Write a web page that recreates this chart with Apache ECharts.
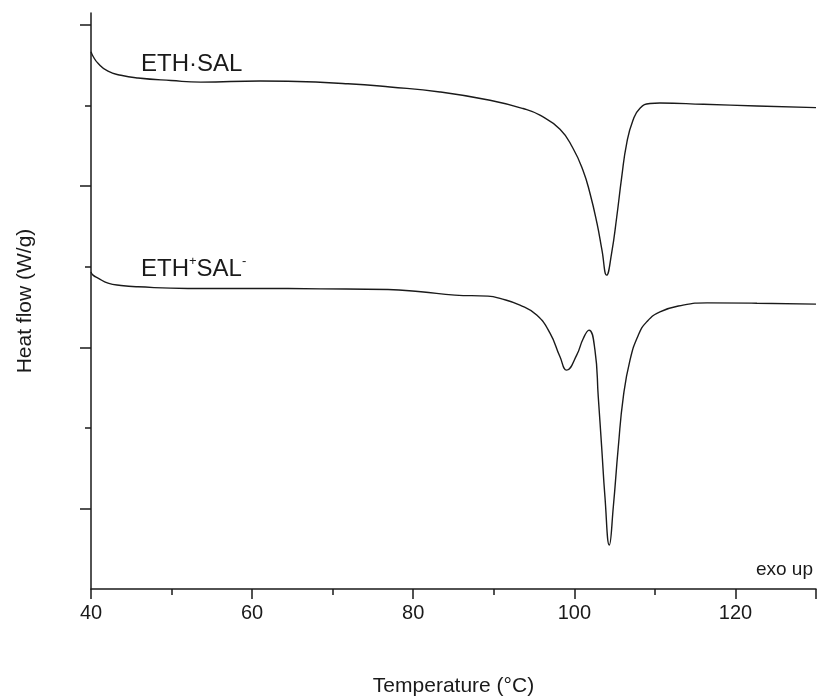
<!DOCTYPE html>
<html>
<head>
<meta charset="utf-8">
<script src="https://cdn.jsdelivr.net/npm/echarts@6/dist/echarts.min.js"></script>
<style>html,body{margin:0;padding:0;background:#fff}#c{width:817px;height:700px}</style>
</head>
<body>
<div id="c"></div>
<script>
// ETH·SAL (upper trace)
const ethSalT = [40.0, 40.25, 40.87, 42.11, 43.72, 45.83, 49.93, 53.65, 60.98, 64.45, 71.9, 77.12, 83.32, 89.53, 93.63, 95.73, 98.22, 99.83, 101.07, 101.94, 102.81, 103.43, 104.01, 104.63, 105.26, 105.88, 106.5, 107.28, 108.15, 109.39, 110.63, 116.05, 122.67, 130.0];
const ethSalHF = [6.669, 6.613, 6.526, 6.427, 6.377, 6.344, 6.312, 6.292, 6.306, 6.302, 6.272, 6.232, 6.170, 6.067, 5.964, 5.881, 5.707, 5.471, 5.199, 4.913, 4.541, 4.206, 3.896, 4.169, 4.615, 5.112, 5.533, 5.819, 5.968, 6.026, 6.033, 6.017, 5.996, 5.976];
// ETH+SAL- (lower trace)
const ethpSalmT = [40.0, 40.25, 40.87, 42.11, 43.72, 45.83, 52.04, 60.36, 68.55, 76.87, 80.96, 85.18, 89.28, 90.77, 93.25, 95.33, 96.98, 98.22, 99.05, 100.29, 101.11, 101.82, 102.56, 102.97, 103.39, 103.80, 104.34, 104.84, 105.46, 106.08, 106.91, 107.94, 108.98, 110.63, 113.49, 116.47, 122.67, 130.0];
const ethpSalmHF = [3.937, 3.896, 3.859, 3.797, 3.768, 3.751, 3.731, 3.731, 3.726, 3.718, 3.689, 3.648, 3.635, 3.607, 3.524, 3.400, 3.176, 2.882, 2.717, 2.903, 3.110, 3.213, 2.965, 2.386, 1.766, 1.145, 0.546, 1.021, 1.766, 2.386, 2.841, 3.151, 3.316, 3.440, 3.524, 3.552, 3.548, 3.536];
// ticks
const xLabelTicks = [40, 60, 80, 100, 120];
const xMajorTicks = [40, 60, 80, 100, 120, 130];
const xMinorTicks = [50, 70, 90, 110];
const yMajorTicks = [1, 3, 5, 7];
const yMinorTicks = [2, 4, 6];

const zip = (a, b) => a.map((v, i) => [v, b[i]]);
const FONT = 'Liberation Sans, Arial, sans-serif';
const INK = '#1a1a1a';

const chart = echarts.init(document.getElementById('c'), null, {renderer: 'canvas'});
const axisLine = {show: true, lineStyle: {color: INK, width: 1.5}};
chart.setOption({
  animation: false,
  backgroundColor: '#fff',
  grid: {left: 91, right: 1, top: 13, bottom: 111, containLabel: false, outerBoundsMode: 'none'},
  xAxis: [
    {type: 'value', min: 40, max: 130, position: 'bottom',
     axisLine: axisLine,
     axisTick: {show: true, customValues: xMajorTicks, length: 10, lineStyle: {color: INK, width: 1.5}},
     axisLabel: {show: true, customValues: xLabelTicks, fontFamily: FONT, fontSize: 20, color: INK, margin: 14},
     splitLine: {show: false},
     name: 'Temperature (°C)', nameLocation: 'middle', nameGap: 87,
     nameTextStyle: {fontFamily: FONT, fontSize: 21, color: INK}},
    {type: 'value', min: 40, max: 130, position: 'bottom',
     axisLine: {show: false},
     axisTick: {show: true, customValues: xMinorTicks, length: 6, lineStyle: {color: INK, width: 1.5}},
     axisLabel: {show: false}, splitLine: {show: false}}
  ],
  yAxis: [
    {type: 'value', min: 0, max: 7.15, position: 'left',
     axisLine: axisLine,
     axisTick: {show: true, customValues: yMajorTicks, length: 11, lineStyle: {color: INK, width: 1.5}},
     axisLabel: {show: false}, splitLine: {show: false},
     name: 'Heat flow (W/g)', nameLocation: 'middle', nameGap: 55, nameRotate: 90,
     nameTextStyle: {fontFamily: FONT, fontSize: 21, color: INK}},
    {type: 'value', min: 0, max: 7.15, position: 'left',
     axisLine: {show: false},
     axisTick: {show: true, customValues: yMinorTicks, length: 6, lineStyle: {color: INK, width: 1.5}},
     axisLabel: {show: false}, splitLine: {show: false}}
  ],
  series: [
    {name: 'ETH·SAL', type: 'line', data: zip(ethSalT, ethSalHF), showSymbol: false, smooth: 0.5,
     lineStyle: {color: INK, width: 1.4}},
    {name: 'ETH+SAL-', type: 'line', data: zip(ethpSalmT, ethpSalmHF), showSymbol: false, smooth: 0.5,
     lineStyle: {color: INK, width: 1.4}}
  ],
  graphic: [
    {type: 'text', left: 141, top: 52, style: {text: 'ETH·SAL', font: '24px ' + FONT, fill: INK}},
    {type: 'text', left: 141, top: 255, style: {
      text: '{n|ETH}{s|+}{n|SAL}{s|-}', font: '24px ' + FONT, fill: INK,
      rich: {n: {fontSize: 24, fontFamily: FONT, fill: INK, lineHeight: 28},
             s: {fontSize: 13, fontFamily: FONT, fill: INK, verticalAlign: 'top', lineHeight: 28}}}},
    {type: 'text', right: 4, top: 560, style: {text: 'exo up', font: '19px ' + FONT, fill: INK}}
  ]
});
</script>
</body>
</html>
